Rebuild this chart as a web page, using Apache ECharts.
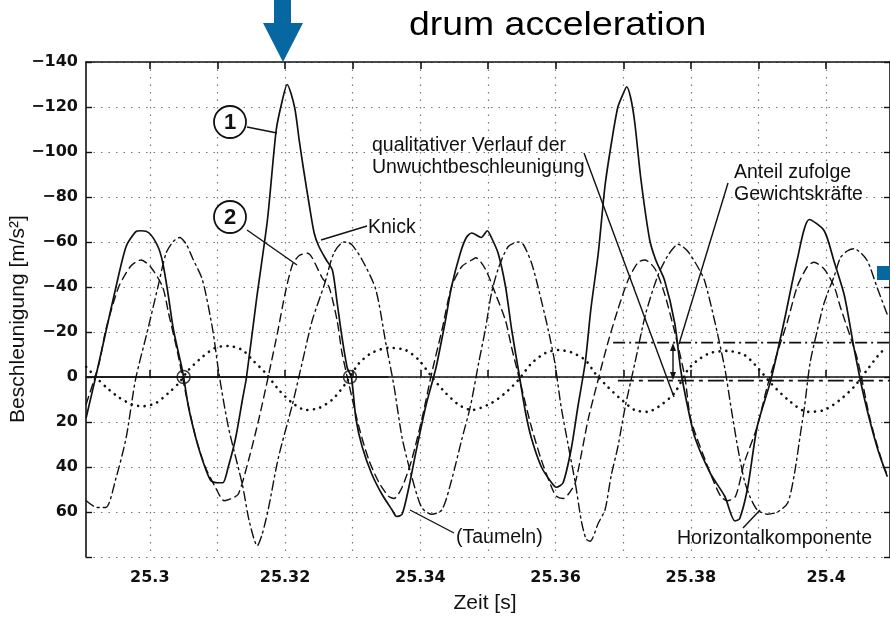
<!DOCTYPE html>
<html>
<head>
<meta charset="utf-8">
<title>drum acceleration</title>
<script src="https://cdn.jsdelivr.net/npm/echarts@6.0.0/dist/echarts.min.js"></script>
<style>
html, body { margin: 0; padding: 0; background: #fff; }
#main { width: 890px; height: 619px; }
</style>
</head>
<body>
<div id="main"></div>
<script>
// Zeit [s] / Beschleunigung [m/s²]
var xTicks = [25.30, 25.31, 25.32, 25.33, 25.34, 25.35, 25.36, 25.37, 25.38, 25.39, 25.40];
var xLabels = [25.30, 25.32, 25.34, 25.36, 25.38, 25.40];

// Kurve 1 (durchgezogen)
var curve1 = [
	[25.2906, 18], [25.2920, 0], [25.2935, -20], [25.2950, -40], [25.2965, -58], [25.2979, -64.5],
	[25.2987, -65], [25.2999, -64], [25.3012, -58], [25.3019, -51], [25.3027, -37], [25.3035, -21],
	[25.3046, -6], [25.3050, 0], [25.3057, 13], [25.3068, 27], [25.3078, 37], [25.3090, 46],
	[25.3100, 47], [25.3108, 47], [25.3116, 40], [25.3127, 27], [25.3137, 10], [25.3143, 0],
	[25.3158, -35], [25.3174, -70], [25.3187, -110], [25.3196, -123], [25.3203, -130], [25.3214, -120],
	[25.3221, -105], [25.3228, -91], [25.3236, -76], [25.3243, -64], [25.3250, -58], [25.3261, -52],
	[25.3270, -47.5], [25.3277, -33], [25.3284, -18], [25.3292, -4], [25.3298, 0], [25.3305, 19],
	[25.3314, 31], [25.3328, 43], [25.3343, 52], [25.3358, 59], [25.3365, 62], [25.3373, 61],
	[25.3383, 49], [25.3393, 34], [25.3408, 13], [25.3423, -4], [25.3437, -25], [25.3446, -40],
	[25.3459, -55], [25.3468, -62], [25.3476, -64], [25.3490, -62], [25.3499, -65], [25.3505, -62],
	[25.3515, -55], [25.3526, -40], [25.3535, -21], [25.3545, -3], [25.3555, 15], [25.3564, 27],
	[25.3579, 40], [25.3594, 47], [25.3601, 49], [25.3611, 47], [25.3623, 32], [25.3633, 13],
	[25.3644, -7], [25.3652, -30], [25.3663, -55], [25.3673, -85], [25.3683, -105], [25.3692, -120],
	[25.3700, -126], [25.3705, -129], [25.3711, -124], [25.3717, -113], [25.3726, -88], [25.3739, -61],
	[25.3748, -52], [25.3761, -43], [25.3776, -24], [25.3785, -3], [25.3795, 13], [25.3806, 27],
	[25.3829, 43], [25.3850, 53], [25.3865, 64], [25.3872, 63], [25.3884, 49], [25.3898, 22],
	[25.3918, 1.5], [25.3938, -25], [25.3957, -52], [25.3975, -70], [25.3997, -65], [25.4012, -51],
	[25.4027, -36], [25.4041, -13], [25.4056, 9], [25.4075, 31], [25.4090, 44]
];

// Kurve 2 (gestrichelt)
var curve2 = [
	[25.2906, 12], [25.2925, -6], [25.2935, -21], [25.2954, -40], [25.2971, -49], [25.2979, -51],
	[25.2987, -52], [25.3001, -49], [25.3019, -40], [25.3028, -28], [25.3041, -11], [25.3053, 7],
	[25.3068, 27], [25.3082, 40], [25.3097, 49], [25.3110, 55], [25.3121, 54], [25.3131, 52],
	[25.3146, 37], [25.3161, 19], [25.3175, 0], [25.3189, -20], [25.3200, -37], [25.3211, -50],
	[25.3221, -54], [25.3233, -55], [25.3240, -53], [25.3255, -44], [25.3265, -40], [25.3277, -25],
	[25.3284, -11], [25.3295, 4], [25.3309, 22], [25.3324, 37], [25.3339, 47], [25.3353, 53],
	[25.3361, 54], [25.3373, 49], [25.3387, 37], [25.3402, 19], [25.3417, -2], [25.3432, -21],
	[25.3446, -40], [25.3461, -49], [25.3476, -52], [25.3482, -53], [25.3496, -48], [25.3511, -37],
	[25.3526, -25], [25.3535, -13], [25.3549, 4], [25.3564, 22], [25.3579, 37], [25.3594, 49],
	[25.3601, 53], [25.3611, 54], [25.3619, 52], [25.3629, 47], [25.3648, 19], [25.3663, 1],
	[25.3677, -15], [25.3692, -30], [25.3707, -43], [25.3722, -51], [25.3732, -52], [25.3747, -48],
	[25.3761, -37], [25.3776, -20], [25.3791, 0], [25.3800, 19], [25.3829, 43], [25.3844, 53],
	[25.3854, 55], [25.3866, 53], [25.3879, 38], [25.3898, 22], [25.3913, 4], [25.3928, -11],
	[25.3943, -25], [25.3957, -40], [25.3972, -49], [25.3982, -51], [25.3997, -48], [25.4012, -40],
	[25.4021, -31], [25.4046, -8], [25.4065, 19], [25.4085, 40], [25.4090, 43]
];

// strichpunktierte Kurve (Taumeln)
var curve3 = [
	[25.2906, 55], [25.2922, 58], [25.2935, 58], [25.2950, 45], [25.2965, 27], [25.2979, 1],
	[25.2997, -21], [25.3012, -40], [25.3024, -55], [25.3034, -60], [25.3044, -62], [25.3054, -59],
	[25.3063, -53], [25.3078, -43], [25.3093, -21], [25.3102, -2], [25.3116, 22], [25.3137, 48],
	[25.3147, 64], [25.3159, 75], [25.3166, 70], [25.3175, 59], [25.3190, 36], [25.3211, 12],
	[25.3225, -6], [25.3240, -25], [25.3258, -41], [25.3272, -55], [25.3287, -60], [25.3298, -59],
	[25.3314, -52], [25.3334, -39], [25.3349, -15], [25.3361, 4], [25.3373, 27], [25.3387, 44],
	[25.3402, 58], [25.3417, 61], [25.3432, 59], [25.3446, 46], [25.3461, 28], [25.3474, 13],
	[25.3486, -6], [25.3496, -21], [25.3505, -37], [25.3515, -48], [25.3530, -58], [25.3545, -60],
	[25.3552, -59], [25.3564, -51], [25.3574, -40], [25.3589, -21], [25.3599, -6], [25.3608, 13],
	[25.3619, 31], [25.3629, 47], [25.3638, 64], [25.3645, 72], [25.3651, 73], [25.3663, 65],
	[25.3673, 59], [25.3682, 44], [25.3692, 31], [25.3703, 13], [25.3717, -6], [25.3733, -28],
	[25.3751, -45], [25.3766, -54], [25.3781, -59], [25.3795, -56], [25.3810, -49], [25.3820, -43],
	[25.3835, -25], [25.3850, -4], [25.3859, 13], [25.3869, 31], [25.3879, 46], [25.3887, 53],
	[25.3898, 59], [25.3913, 61], [25.3928, 60], [25.3943, 56], [25.3953, 43], [25.3962, 25],
	[25.3968, 13], [25.3976, -6], [25.3987, -21], [25.3997, -33], [25.4012, -45], [25.4021, -53],
	[25.4031, -56], [25.4041, -57], [25.4060, -52], [25.4075, -40], [25.4090, -28]
];

// punktierte Kurve (Unwucht)
var curve4 = [
	[25.2906, -4.5], [25.2920, 0], [25.2935, 4.4], [25.2954, 9], [25.2975, 12.4], [25.2990, 13],
	[25.3009, 11.6], [25.3028, 7], [25.3043, 2.7], [25.3057, -3], [25.3078, -9], [25.3097, -13],
	[25.3116, -13.8], [25.3137, -12], [25.3152, -7.5], [25.3171, -1.8], [25.3191, 5.8], [25.3211, 11.6],
	[25.3231, 14.7], [25.3250, 13.8], [25.3270, 10], [25.3290, 2.7], [25.3309, -6], [25.3328, -10.7],
	[25.3353, -13], [25.3378, -12], [25.3398, -7.5], [25.3417, 0], [25.3437, 7], [25.3457, 12.4],
	[25.3476, 14.7], [25.3505, 11.6], [25.3526, 7], [25.3545, 1.3], [25.3564, -6], [25.3585, -10.7],
	[25.3604, -12], [25.3623, -11], [25.3644, -7.5], [25.3658, -1.8], [25.3677, 4.4], [25.3697, 10],
	[25.3717, 14.7], [25.3736, 15.5], [25.3756, 12.4], [25.3776, 7], [25.3795, -3], [25.3810, -7.5],
	[25.3829, -10.7], [25.3854, -11.6], [25.3879, -9.8], [25.3898, -4.4], [25.3918, 2.7], [25.3943, 10],
	[25.3972, 15.5], [25.3997, 14.7], [25.4021, 10], [25.4041, 4.4], [25.4060, -3], [25.4080, -10.7],
	[25.4090, -13]
];

var zeroLine = [[25.2906, 0], [25.3353, 0]];
var weightUpper = [[25.3685, -15.3], [25.4100, -15.3]];
var weightLower = [[25.3692, 1.6], [25.4100, 1.6]];
var crossings = [[25.3050, 0], [25.3296, 0]];

var XMIN = 25.29057, XMAX = 25.40943;
var BLUE = '#0767a1';
var INK = '#111';
var annoFont = '19.5px "Liberation Sans", Arial, sans-serif';

function lineSeries(data, width, type){
	return {
		type: 'line',
		data: data,
		showSymbol: false,
		symbol: 'none',
		smooth: 0.25,
		clip: true,
		lineStyle: { color: INK, width: width, type: type, cap: 'round' },
		z: 3
	};
}

function yLabel(v){
	if (v === 80) return '';
	return v < 0 ? '\u2212' + (-v) : String(v);
}

function annoText(x, y, text){
	return {
		type: 'text', x: x, y: y, z: 100,
		style: { text: text, font: annoFont, fill: INK, verticalAlign: 'middle' }
	};
}

function annoLine(x1, y1, x2, y2){
	return { type: 'line', z: 100, shape: { x1: x1, y1: y1, x2: x2, y2: y2 },
		style: { stroke: INK, lineWidth: 1.4 } };
}

function numberCircle(cx, cy, txt){
	return [
		{ type: 'circle', z: 100, shape: { cx: cx, cy: cy, r: 16 },
			style: { fill: '#fff', stroke: INK, lineWidth: 1.8 } },
		{ type: 'text', z: 101, x: cx, y: cy + 1,
			style: { text: txt, font: 'bold 22px "Liberation Sans", Arial, sans-serif', fill: INK,
				align: 'center', verticalAlign: 'middle' } }
	];
}

var axisFont = { fontFamily: 'DejaVu Sans', fontWeight: 'bold', fontSize: 16, color: INK };
var gridLine = { show: true, lineStyle: { color: '#777', width: 1.2, type: [1.5, 6] } };

var graphics = [
	// Titel und Pfeile
	{ type: 'text', x: 409, y: 26, scaleX: 1.1, z: 100,
		style: { text: 'drum acceleration', font: '34px "Liberation Sans", Arial, sans-serif',
			fill: '#000', verticalAlign: 'middle' } },
	{ type: 'polygon', z: 100,
		shape: { points: [[274, 0], [291, 0], [291, 23], [303, 23], [283, 62], [263, 23], [274, 23]] },
		style: { fill: BLUE } },
	{ type: 'rect', z: 100, shape: { x: 877, y: 266, width: 14, height: 14 }, style: { fill: BLUE } },
	// Achsentitel
	{ type: 'text', x: 485, y: 603, z: 100,
		style: { text: 'Zeit [s]', font: '21px "Liberation Sans", Arial, sans-serif', fill: INK,
			align: 'center', verticalAlign: 'middle' } },
	{ type: 'text', x: 18, y: 319, rotation: Math.PI / 2, z: 100,
		style: { text: 'Beschleunigung [m/s\u00b2]', font: '21px "Liberation Sans", Arial, sans-serif',
			fill: INK, align: 'center', verticalAlign: 'middle' } },
	// Beschriftungen
	annoLine(247, 127, 277, 133),
	annoLine(247, 230, 297, 265),
	annoLine(321, 240, 367, 226),
	annoLine(584, 153, 674, 397),
	annoLine(728, 183, 679, 344),
	annoLine(410, 510, 454, 533),
	annoLine(743, 528, 760, 510),
	annoText(368, 228, 'Knick'),
	annoText(372, 146, 'qualitativer Verlauf der'),
	annoText(372, 168, 'Unwuchtbeschleunigung'),
	annoText(734, 173, 'Anteil zufolge'),
	annoText(734, 195, 'Gewichtskr\u00e4fte'),
	annoText(456, 538, '(Taumeln)'),
	annoText(677, 539, 'Horizontalkomponente'),
	// Doppelpfeil zwischen den Gewichtslinien
	{ type: 'line', z: 100, shape: { x1: 673, y1: 347, x2: 673, y2: 376 }, style: { stroke: INK, lineWidth: 1.4 } },
	{ type: 'polygon', z: 100, shape: { points: [[673, 343], [670, 351], [676, 351]] }, style: { fill: INK } },
	{ type: 'polygon', z: 100, shape: { points: [[673, 380], [670, 372], [676, 372]] }, style: { fill: INK } }
].concat(numberCircle(230, 122, '1'), numberCircle(230, 217, '2'));

var chart = echarts.init(document.getElementById('main'));
chart.setOption({
	animation: false,
	backgroundColor: '#fff',
	grid: { left: 86, top: 62, width: 807, height: 495, containLabel: false },
	xAxis: [{
		type: 'value', position: 'bottom', min: XMIN, max: XMAX,
		axisLine: { show: true, lineStyle: { color: INK, width: 1.6 } },
		axisTick: { show: true, inside: true, length: 7, customValues: xTicks, lineStyle: { color: INK, width: 1.6 } },
		axisLabel: {
			customValues: xLabels, margin: 13,
			fontFamily: axisFont.fontFamily, fontWeight: axisFont.fontWeight, fontSize: axisFont.fontSize, color: axisFont.color,
			formatter: function(v){ return String(+v.toFixed(2)); }
		},
		splitLine: gridLine
	}, {
		type: 'value', position: 'top', min: XMIN, max: XMAX,
		axisLine: { show: true, onZero: false, lineStyle: { color: INK, width: 1.6 } },
		axisTick: { show: true, inside: true, length: 7, customValues: xTicks, lineStyle: { color: INK, width: 1.6 } },
		axisLabel: { show: false },
		splitLine: { show: false }
	}],
	yAxis: [{
		type: 'value', inverse: true, min: -140, max: 80, interval: 20,
		axisLine: { show: true, onZero: false, lineStyle: { color: INK, width: 1.6 } },
		axisTick: { show: true, inside: true, length: 6, lineStyle: { color: INK, width: 1.4 } },
		axisLabel: {
			margin: 8,
			fontFamily: axisFont.fontFamily, fontWeight: axisFont.fontWeight, fontSize: axisFont.fontSize, color: axisFont.color,
			formatter: yLabel
		},
		splitLine: gridLine
	}, {
		type: 'value', position: 'right', inverse: true, min: -140, max: 80, interval: 20,
		axisLine: { show: true, onZero: false, lineStyle: { color: INK, width: 1.6 } },
		axisTick: { show: true, inside: true, length: 6, lineStyle: { color: INK, width: 1.4 } },
		axisLabel: { show: false },
		splitLine: { show: false }
	}],
	series: [
		lineSeries(curve1, 1.7, 'solid'),
		lineSeries(curve2, 1.4, [8, 5]),
		lineSeries(curve3, 1.4, [9, 4, 2, 4]),
		lineSeries(curve4, 2.6, [0.1, 6.5]),
		{ type: 'line', data: zeroLine, showSymbol: false, symbol: 'none', lineStyle: { color: INK, width: 1.6 }, z: 3 },
		{ type: 'line', data: weightUpper, showSymbol: false, symbol: 'none', clip: true,
			lineStyle: { color: INK, width: 1.6, type: [12, 4, 2, 4] }, z: 3 },
		{ type: 'line', data: weightLower, showSymbol: false, symbol: 'none', clip: true,
			lineStyle: { color: INK, width: 1.6, type: [16, 5, 4, 5] }, z: 3 },
		{ type: 'scatter', data: crossings, symbol: 'circle', symbolSize: 13,
			itemStyle: { color: 'rgba(255,255,255,0)', borderColor: INK, borderWidth: 1.5 }, z: 4 }
	],
	graphic: graphics
});
</script>
</body>
</html>
